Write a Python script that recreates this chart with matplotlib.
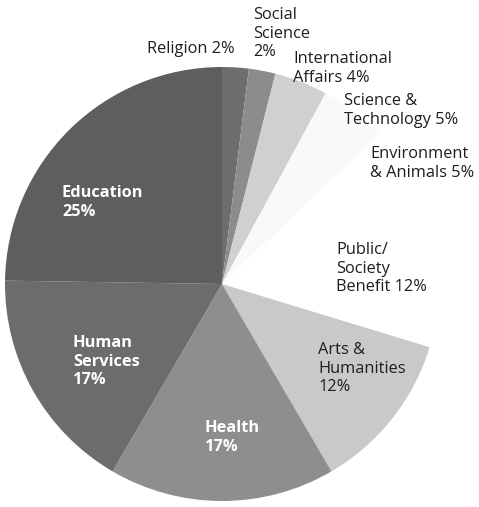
import matplotlib.pyplot as plt

W, H = 479, 507

categories = ["Religion", "Social Science", "International Affairs",
              "Science & Technology", "Environment & Animals",
              "Public/Society Benefit", "Arts & Humanities", "Health",
              "Human Services", "Education"]
shares = [2, 2, 4, 5, 5, 12, 12, 17, 17, 25]
colors = ["#6e6e6e", "#8c8c8c", "#d0d0d0", "#f9f9f9", "#ffffff",
          "#ffffff", "#c9c9c9", "#8e8e8e", "#6c6c6c", "#5e5e5e"]

# label text, left x, top y (image pixels), white bold?
labels = [
    ("Religion 2%", 147, 41, False),
    ("Social\nScience\n2%", 253, 7, False),
    ("International\nAffairs 4%", 293, 51, False),
    ("Science &\nTechnology 5%", 344, 93, False),
    ("Environment\n& Animals 5%", 370, 146, False),
    ("Public/\nSociety\nBenefit 12%", 336, 242, False),
    ("Arts &\nHumanities\n12%", 318, 342, False),
    ("Health\n17%", 205, 420, True),
    ("Human\nServices\n17%", 73, 335, True),
    ("Education\n25%", 62, 185, True),
]

fig = plt.figure(figsize=(W / 100, H / 100), dpi=100)
ax = fig.add_axes([0, 0, 1, 1])

ax.pie(shares, colors=colors, startangle=90, counterclock=False,
       center=(222, H - 284), radius=217, frame=True,
       wedgeprops=dict(linewidth=0))
ax.set_xlim(0, W)
ax.set_ylim(0, H)
ax.set_aspect("equal")
ax.axis("off")

for text, x, y, inside in labels:
    ax.text(x, H - y, text, ha="left", va="top", fontsize=11.8,
            family="Open Sans", linespacing=1.22,
            color="white" if inside else "#1e1e1e",
            fontweight="bold" if inside else "normal")

fig.savefig("out.png", dpi=100)
